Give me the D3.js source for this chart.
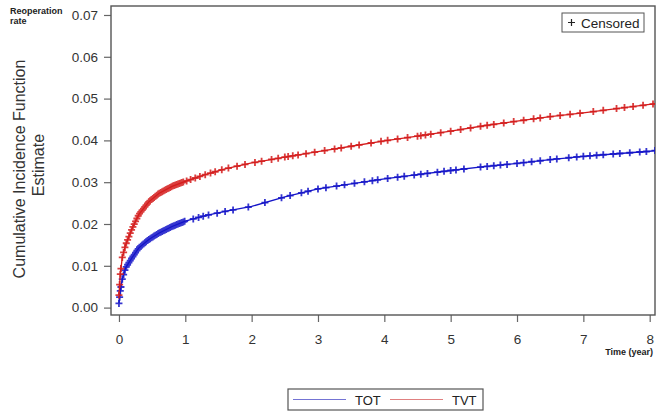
<!DOCTYPE html>
<html>
<head>
<meta charset="utf-8">
<title>CIF</title>
<script src="https://cdn.jsdelivr.net/npm/d3@7"></script>
<style>
  body { margin: 0; background: #fff; }
  text { font-family: "Liberation Sans", Arial, sans-serif; }
</style>
</head>
<body>
<svg id="chart" width="659" height="413"></svg>
<script>
// curve estimates
var timeTOT = [0, 0.02, 0.05, 0.1, 0.2, 0.3, 0.45, 0.6, 0.8, 1.0, 1.3, 1.6, 2.0, 2.5, 3.0, 3.5, 4.0, 4.5, 5.0, 5.5, 6.0, 6.5, 7.0, 7.5, 8.0, 8.15];
var cifTOT  = [0.001, 0.004, 0.0068, 0.0095, 0.012, 0.0143, 0.0163, 0.0178, 0.0194, 0.0207, 0.022, 0.023, 0.0242, 0.0265, 0.0284, 0.0296, 0.0308, 0.0318, 0.0328, 0.0337, 0.0345, 0.0354, 0.0362, 0.0368, 0.0374, 0.0377];
var timeTVT = [0, 0.02, 0.05, 0.1, 0.2, 0.3, 0.45, 0.6, 0.8, 1.0, 1.3, 1.6, 2.0, 2.5, 3.0, 3.5, 4.0, 4.5, 5.0, 5.5, 6.0, 6.5, 7.0, 7.5, 8.0, 8.15];
var cifTVT  = [0.003, 0.008, 0.012, 0.015, 0.019, 0.0223, 0.0253, 0.0273, 0.029, 0.0302, 0.0318, 0.0332, 0.0346, 0.036, 0.0373, 0.0386, 0.0399, 0.041, 0.0422, 0.0435, 0.0446, 0.0457, 0.0466, 0.0476, 0.0486, 0.0489];

// censoring times
var censTOT = [0, 0.01, 0.02, 0.03, 0.05, 0.07, 0.09, 0.11, 0.13, 0.15, 0.17, 0.19, 0.21, 0.23, 0.25, 0.27, 0.29, 0.31, 0.33, 0.35, 0.37, 0.39, 0.41, 0.43, 0.45, 0.47, 0.49, 0.51, 0.53, 0.55, 0.57, 0.59, 0.61, 0.63, 0.65, 0.67, 0.69, 0.71, 0.73, 0.75, 0.77, 0.79, 0.81, 0.83, 0.85, 0.87, 0.89, 0.91, 0.93, 0.95, 0.97, 0.99,
  1.12, 1.2, 1.27, 1.35, 1.48, 1.6, 1.72, 1.95, 2.2, 2.45, 2.58, 2.75, 2.85, 3.0, 3.12, 3.28, 3.4, 3.55, 3.7, 3.82, 3.9, 4.05, 4.2, 4.3, 4.45, 4.55, 4.65, 4.8, 4.9, 5.0, 5.08, 5.2, 5.45, 5.55, 5.65, 5.75, 5.85, 6.0, 6.1, 6.22, 6.35, 6.5, 6.6, 6.78, 6.9, 7.0, 7.1, 7.2, 7.3, 7.45, 7.55, 7.7, 7.85, 7.95, 8.08];
var censTVT = [0, 0.01, 0.02, 0.03, 0.05, 0.07, 0.09, 0.11, 0.13, 0.15, 0.17, 0.19, 0.21, 0.23, 0.25, 0.27, 0.29, 0.31, 0.33, 0.35, 0.37, 0.39, 0.41, 0.43, 0.45, 0.47, 0.49, 0.51, 0.53, 0.55, 0.57, 0.59, 0.61, 0.63, 0.65, 0.67, 0.69, 0.71, 0.73, 0.75, 0.77, 0.79, 0.81, 0.83, 0.85, 0.87, 0.89, 0.91, 0.93, 0.95, 0.97, 1.02, 1.08,
  1.15, 1.22, 1.3, 1.38, 1.45, 1.55, 1.65, 1.78, 1.9, 2.05, 2.15, 2.3, 2.4, 2.5, 2.55, 2.62, 2.7, 2.82, 2.95, 3.1, 3.25, 3.35, 3.5, 3.62, 3.8, 3.95, 4.05, 4.2, 4.35, 4.5, 4.55, 4.62, 4.7, 4.85, 5.0, 5.15, 5.3, 5.45, 5.55, 5.65, 5.8, 5.95, 6.1, 6.25, 6.35, 6.5, 6.65, 6.8, 6.95, 7.15, 7.3, 7.5, 7.62, 7.75, 7.9, 8.05];

var xTicks = [0, 1, 2, 3, 4, 5, 6, 7, 8];
var yTicks = [0, 0.01, 0.02, 0.03, 0.04, 0.05, 0.06, 0.07];
var seriesNames = ["TOT", "TVT"];
var seriesColors = ["#1414c8", "#d41c1c"];
var legendColors = ["#7474d4", "#e08080"];

var svg = d3.select("#chart");
var L = 111, R = 655, T = 6, B = 315;

var x = d3.scaleLinear().domain([-0.12, 8.08]).range([L, R]);
var y = d3.scaleLinear().domain([-0.00177, 0.07215]).range([B, T]);

svg.append("defs").append("clipPath").attr("id", "clip")
  .append("rect").attr("x", L).attr("y", T).attr("width", R - L).attr("height", B - T);

// axes
var yAxis = svg.append("g").attr("transform", "translate(" + L + ",0)")
  .call(d3.axisLeft(y).tickValues(yTicks).tickFormat(d3.format(".2f")).tickSize(7).tickPadding(6));
var xAxis = svg.append("g").attr("transform", "translate(0," + B + ")")
  .call(d3.axisBottom(x).tickValues(xTicks).tickFormat(d3.format("d")).tickSize(7).tickPadding(12));
[yAxis, xAxis].forEach(function(g) {
  g.select(".domain").remove();
  g.selectAll(".tick line").attr("stroke", "#666").attr("stroke-width", 1.2);
  g.selectAll(".tick text").attr("fill", "#333").style("font-size", "13.5px");
});

// frame
svg.append("rect").attr("x", L).attr("y", T).attr("width", R - L).attr("height", B - T)
  .attr("fill", "none").attr("stroke", "#555").attr("stroke-width", 1.4);

var series = [
  { times: timeTOT, cif: cifTOT, cens: censTOT },
  { times: timeTVT, cif: cifTVT, cens: censTVT }
];

var plot = svg.append("g").attr("clip-path", "url(#clip)");
var line = d3.line().x(function(d) { return x(d[0]); }).y(function(d) { return y(d[1]); });

series.forEach(function(s, i) {
  var pts = s.times.map(function(t, j) { return [t, s.cif[j]]; });
  plot.append("path").datum(pts)
    .attr("d", line).attr("fill", "none")
    .attr("stroke", seriesColors[i]).attr("stroke-width", 1.3);

  // place censoring marks on the curve
  var onCurve = d3.scaleLinear().domain(s.times).range(s.cif);
  var marks = plot.append("g").attr("stroke", seriesColors[i]).attr("stroke-width", 1.8).attr("opacity", 0.85);
  marks.selectAll("path").data(s.cens).enter().append("path")
    .attr("d", function(t) {
      var cx = x(t), cy = y(onCurve(t));
      return "M" + (cx - 3.5) + "," + cy + "H" + (cx + 3.5) + "M" + cx + "," + (cy - 3.5) + "V" + (cy + 3.5);
    });
});

// axis titles
svg.append("text").attr("transform", "translate(25,169) rotate(-90)")
  .attr("text-anchor", "middle").attr("fill", "#333").style("font-size", "16px")
  .text("Cumulative Incidence Function");
svg.append("text").attr("transform", "translate(44,165) rotate(-90)")
  .attr("text-anchor", "middle").attr("fill", "#333").style("font-size", "16px")
  .text("Estimate");

svg.append("text").attr("x", 10).attr("y", 14).attr("fill", "#222")
  .style("font-size", "9px").style("font-weight", "bold").text("Reoperation");
svg.append("text").attr("x", 10).attr("y", 24).attr("fill", "#222")
  .style("font-size", "9px").style("font-weight", "bold").text("rate");
svg.append("text").attr("x", 653).attr("y", 355).attr("text-anchor", "end").attr("fill", "#222")
  .style("font-size", "9px").style("font-weight", "bold").text("Time (year)");

// censored inset legend
var cl = svg.append("g");
cl.append("rect").attr("x", 562).attr("y", 13).attr("width", 82).attr("height", 19)
  .attr("fill", "#fff").attr("stroke", "#555").attr("stroke-width", 1);
cl.append("path").attr("d", "M568,22.5H575M571.5,19V26").attr("stroke", "#222").attr("stroke-width", 1.2);
cl.append("text").attr("x", 581).attr("y", 27.5).attr("fill", "#222").style("font-size", "13.5px").text("Censored");

// bottom legend
var lg = svg.append("g");
lg.append("rect").attr("x", 288).attr("y", 389).attr("width", 195).attr("height", 21)
  .attr("fill", "#fff").attr("stroke", "#555").attr("stroke-width", 1.2);
var lgX = [293, 390];
seriesNames.forEach(function(name, i) {
  lg.append("line").attr("x1", lgX[i]).attr("x2", lgX[i] + 53).attr("y1", 399.5).attr("y2", 399.5)
    .attr("stroke", legendColors[i]).attr("stroke-width", 1.2);
  lg.append("text").attr("x", lgX[i] + 62).attr("y", 404.5).attr("fill", "#222")
    .style("font-size", "13px").text(name);
});
</script>
</body>
</html>
